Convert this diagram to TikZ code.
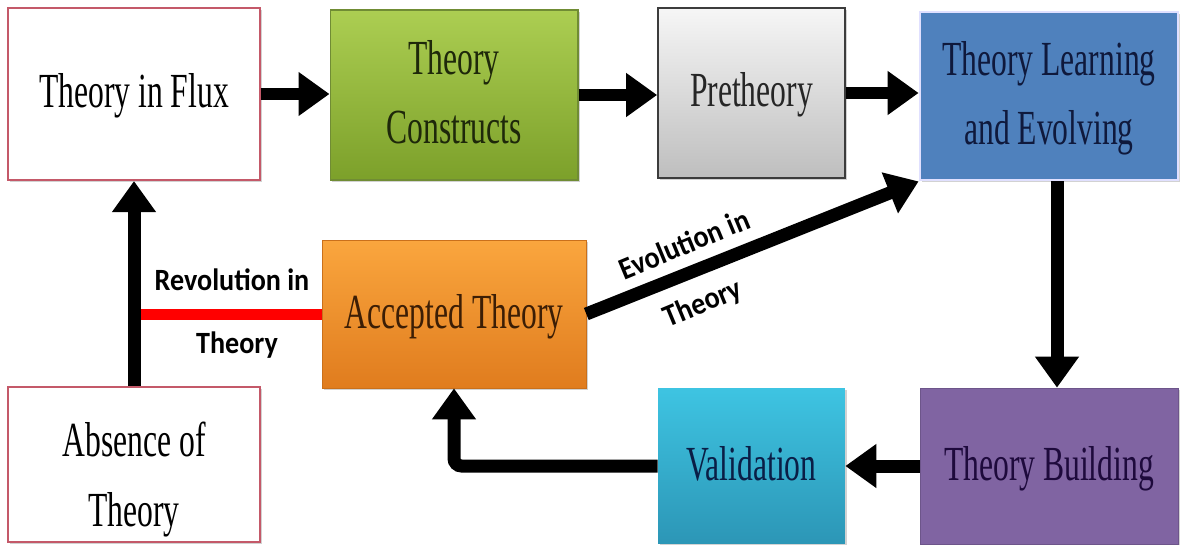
\documentclass[tikz,border=0pt]{standalone}
\usepackage{fontspec}
\setmainfont{Liberation Serif}
\newfontfamily\labelfont{Carlito}
\usetikzlibrary{arrows.meta,shadows}

% box colours
\definecolor{fluxred}{RGB}{196,89,105}
\definecolor{greentop}{RGB}{172,206,82}
\definecolor{greenbot}{RGB}{124,160,42}
\definecolor{greenline}{RGB}{112,140,52}
\definecolor{graytop}{RGB}{246,246,246}
\definecolor{graybot}{RGB}{190,190,190}
\definecolor{grayline}{RGB}{60,60,60}
\definecolor{bluefill}{RGB}{79,129,189}
\definecolor{orangetop}{RGB}{250,166,62}
\definecolor{orangebot}{RGB}{224,124,30}
\definecolor{cyantop}{RGB}{62,196,226}
\definecolor{cyanbot}{RGB}{44,150,182}
\definecolor{purplefill}{RGB}{128,100,162}
% text colours
\definecolor{greentext}{RGB}{30,40,10}
\definecolor{bluetext}{RGB}{15,25,60}
\definecolor{orangetext}{RGB}{60,30,5}
\definecolor{cyantext}{RGB}{10,30,70}
\definecolor{purpletext}{RGB}{30,10,60}

% tall serif box text and bold sans connector labels
\newcommand\boxtext[1]{\scalebox{1}[1.55]{\begin{tabular}{@{}c@{}}#1\end{tabular}}}
\newcommand\labeltext[1]{\scalebox{1}[1.1]{\labelfont\bfseries #1}}

\begin{document}
\begin{tikzpicture}[x=0.02cm,y=-0.02cm,
  box/.style={rectangle, inner sep=0pt, font=\fontsize{18}{25.7}\selectfont,
    drop shadow={shadow xshift=1.2pt, shadow yshift=-1.2pt, opacity=0.35}},
  flow/.style={line width=0.26cm, -{Triangle[width=0.84cm,length=0.62cm]}},
  lbl/.style={font=\fontsize{16}{19}\selectfont, inner sep=0pt}]

\useasboundingbox[fill=white] (0,0) rectangle (1182,544);

% top row
\node[box, draw=fluxred, line width=1.2pt, fill=white,
      minimum width=5.04cm, minimum height=3.44cm] (flux) at (134,94)
      {\boxtext{Theory in Flux}};
\node[box, draw=greenline, line width=0.6pt, top color=greentop, bottom color=greenbot,
      text=greentext, minimum width=4.96cm, minimum height=3.4cm] (cons) at (454,95)
      {\boxtext{Theory\\Constructs}};
\node[box, draw=grayline, line width=1pt, top color=graytop, bottom color=graybot,
      text=black!85, minimum width=3.74cm, minimum height=3.4cm] (pre) at (751.5,93)
      {\boxtext{Pretheory}};
\node[box, draw=white!88!blue, line width=1.6pt, fill=bluefill,
      text=bluetext, minimum width=5.16cm, minimum height=3.36cm] (learn) at (1049,96)
      {\boxtext{Theory Learning\\and Evolving}};

% middle
\node[box, top color=orangetop, bottom color=orangebot, draw=orangebot!90!black, line width=0.4pt,
      text=orangetext, minimum width=5.28cm, minimum height=2.96cm] (accept) at (454,314)
      {\boxtext{Accepted Theory}};

% bottom row (text sits a little below the box centre)
\node[box, draw=fluxred, line width=1.2pt, fill=white,
      minimum width=5.04cm, minimum height=3.1cm] (absent) at (134,464.5)
      {\raisebox{-14pt}[0pt][0pt]{\boxtext{Absence of\\Theory}}};
\node[box, top color=cyantop, bottom color=cyanbot,
      text=cyantext, minimum width=3.74cm, minimum height=3.12cm] (valid) at (751.5,466)
      {\boxtext{Validation}};
\node[box, fill=purplefill, draw=purplefill!85!black, line width=0.4pt,
      text=purpletext, minimum width=5.16cm, minimum height=3.12cm] (build) at (1049,466)
      {\boxtext{Theory Building}};

% connectors
\draw[red, line width=0.22cm] (accept.west) -- (accept.west -| absent.north);
\draw[flow] (absent.north) -- (flux.south);
\draw[flow] (flux.east) -- (flux.east -| cons.west);
\draw[flow] (cons.east) -- (cons.east -| pre.west);
\draw[flow] (pre.east) -- (pre.east -| learn.west);
\draw[flow] ([xshift=0.16cm]learn.south) -- ([xshift=0.16cm]build.north);
\draw[flow] (build.west) -- (valid.east);
\draw[flow, rounded corners=0.15cm] (valid.west) -| (accept.south);
\draw[flow] (accept.east) -- (learn.south west);

% connector labels
\node[lbl] (revA) at (232,280) {\labeltext{Revolution in}};
\node[lbl] (revB) at (237,345) {\labeltext{Theory}};
\node[lbl, rotate=22.5] (evoA) at (684,244) {\labeltext{Evolution in}};
\node[lbl, rotate=22.5] (evoB) at (703,304) {\labeltext{Theory}};
\end{tikzpicture}
\end{document}
